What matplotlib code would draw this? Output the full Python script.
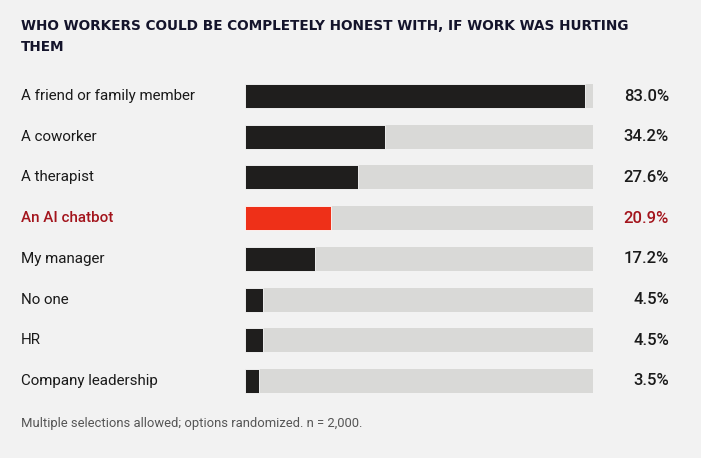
import matplotlib.pyplot as plt
from matplotlib.transforms import blended_transform_factory

categories = ["A friend or family member", "A coworker", "A therapist", "An AI chatbot",
              "My manager", "No one", "HR", "Company leadership"]
values = [83.0, 34.2, 27.6, 20.9, 17.2, 4.5, 4.5, 3.5]
highlight = "An AI chatbot"
scale_max = 85

title = "WHO WORKERS COULD BE COMPLETELY HONEST WITH, IF WORK WAS HURTING\nTHEM"
note = "Multiple selections allowed; options randomized. n = 2,000."

bg = "#f2f2f2"
track = "#d9d9d7"
dark = "#1f1e1d"
red_bar = "#ee3018"
red_text = "#a3141c"
text_col = "#1a1a1a"

W, H = 701, 458
fig = plt.figure(figsize=(W / 100, H / 100), dpi=100)
fig.patch.set_facecolor(bg)

# axes spans the bar track area, rows ~40.7 px apart
row = 40.7
top = 96 - row / 2
bottom = 381 + row / 2
ax = fig.add_axes([245 / W, 1 - bottom / H, 348 / W, (bottom - top) / H])
ax.set_facecolor(bg)
ax.set_xlim(0, scale_max)
ax.set_ylim(len(categories) - 0.5, -0.5)
ax.axis("off")

ypos = list(range(len(categories)))
ax.barh(ypos, [scale_max] * len(categories), height=0.59, color=track, edgecolor="none")
colors = [red_bar if c == highlight else dark for c in categories]
ax.barh(ypos, values, height=0.59, color=colors, edgecolor="white", linewidth=0.6)

tr = blended_transform_factory(fig.transFigure, ax.transData)
for i, (c, v) in enumerate(zip(categories, values)):
    col = red_text if c == highlight else text_col
    ax.text(21 / W, i, c, transform=tr, ha="left", va="center", fontsize=10.9,
            family="Roboto", color=col, fontweight="medium" if c == highlight else "normal")
    ax.text(669 / W, i, f"{v:.1f}%", transform=tr, ha="right", va="center", fontsize=12,
            family="Roboto", color=col, fontweight="medium")

fig.text(21 / W, 1 - 19 / H, title, ha="left", va="top", fontsize=9.8, family="DejaVu Sans",
         fontweight="bold", color="#14142b", linespacing=1.65)
fig.text(21 / W, 1 - 424 / H, note, ha="left", va="center", fontsize=9.4, family="Roboto",
         color="#555555")

fig.savefig("out.png", dpi=100, facecolor=bg)
